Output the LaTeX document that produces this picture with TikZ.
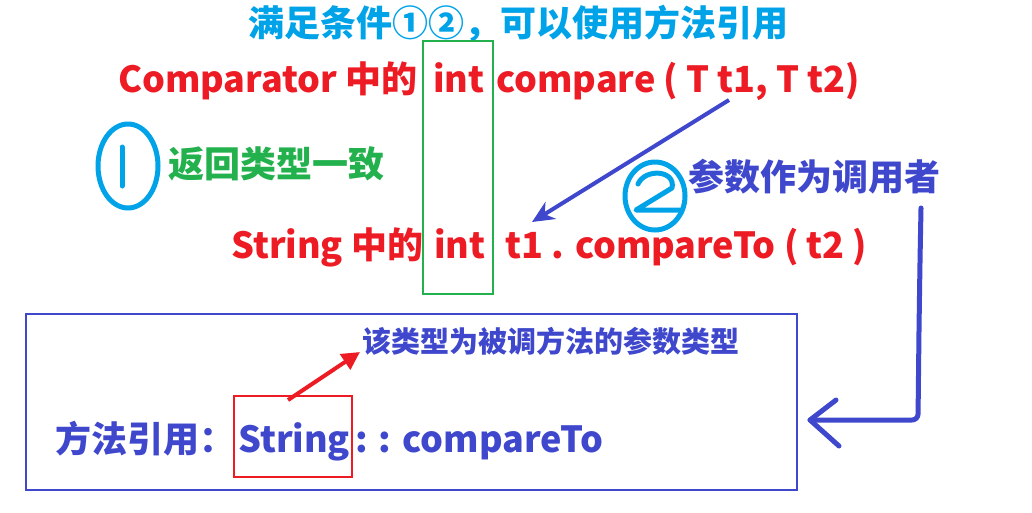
\documentclass[tikz,border=0pt]{standalone}
\usepackage{fontspec}
\newfontfamily\cjk{Noto Sans CJK SC}
\usetikzlibrary{arrows.meta}
\definecolor{cred}{RGB}{237,28,36}
\definecolor{cblue}{RGB}{63,72,204}
\definecolor{ccyan}{RGB}{0,162,232}
\definecolor{cgreen}{RGB}{34,177,76}
\tikzset{
  txt/.style={inner sep=0pt, anchor=base west, font=\cjk\bfseries\fontsize{36}{42}\selectfont},
  small/.style={inner sep=0pt, anchor=base west, font=\cjk\bfseries\fontsize{29}{34}\selectfont},
  hand/.style={ccyan, line width=5pt, line cap=round, line join=round},
  bluearrow/.style={cblue, line width=5pt, line cap=round, line join=round},
}
\begin{document}
\begin{tikzpicture}[x=1pt,y=-1pt]
\useasboundingbox (0,0) rectangle (1032,512);
% title
\node[txt, ccyan] (title) at (248,36) {满足条件①②，可以使用方法引用};
% line 1
\node[txt, cred] (c1) at (118,92) {Comparator 中的};
\node[txt, cred] (int1) at (433,92) {int};
\node[txt, cred] (c2) at (496,92) {compare ( T t1, T t2)};
% line 2
\node[txt, cred] (s1) at (231,258) {String 中的};
\node[txt, cred] (int2) at (434,258) {int};
\node[txt, cred] (s2) at (505,258) {t1 . compareTo ( t2 )};
% green box
\draw[cgreen, line width=2pt] (423,41) rectangle (493,294);
% circle 1
\draw[hand] (128,166) ellipse [x radius=30, y radius=42];
\draw[hand] (122,147) -- (122,186);
\node[txt, cgreen] (ret) at (168,177) {返回类型一致};
% circle 2
\draw[hand] (655,196) ellipse [x radius=30, y radius=34];
\draw[hand] (638,184) .. controls (645,168) and (676,170) .. (672,188) -- (636,210) -- (680,210);
\node[txt, cblue] (param) at (688,190) {参数作为调用者};
% blue arrow
\coordinate (a1s) at (729,100);
\coordinate (a1e) at (532,222);
\draw[cblue, line width=4pt, -{Stealth[length=22pt,width=20pt]}] (a1s) -- (a1e);
% big box
\draw[cblue, line width=2.5pt] (26,314) rectangle (797,490);
\node[small, cblue] (note) at (362,352) {该类型为被调方法的参数类型};
\node[txt, cblue] (m1) at (55,452) {方法引用：};
\node[txt, cblue] (m2) at (238,452) {String};
\node[txt, cblue] (m3) at (355,452) {: : compareTo};
% red box
\draw[cred, line width=2pt] (234,396) rectangle (352,477);
% red arrow
\coordinate (ra1) at (288,400);
\coordinate (ra2) at (360,352);
\draw[cred, line width=4pt, -{Triangle[length=18pt,width=18pt]}] (ra1) -- (ra2);
% bent arrow
\coordinate (b1) at (921,208);
\coordinate (b2) at (918,420);
\coordinate (b3) at (810,420);
\draw[bluearrow, rounded corners=6pt] (b1) .. controls (920,260) .. (919,330) -- (b2) -- (b3);
\draw[bluearrow] (836,400) -- (b3) -- (839,446);
\end{tikzpicture}
\end{document}
